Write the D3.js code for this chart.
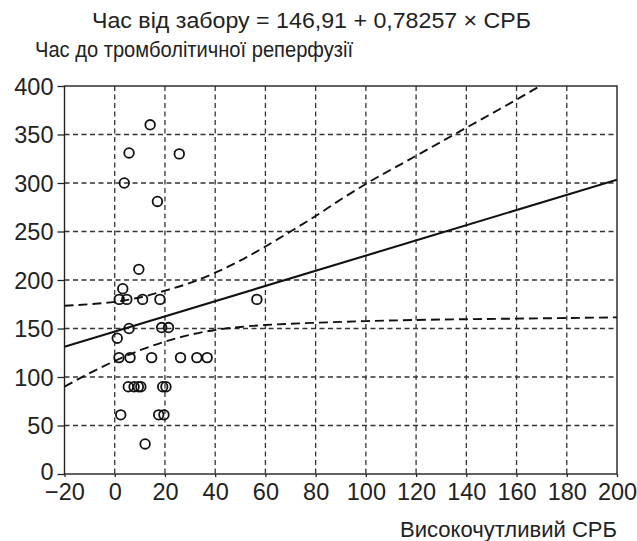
<!DOCTYPE html>
<html><head><meta charset="utf-8">
<script src="https://cdn.jsdelivr.net/npm/d3@7"></script>
<style>body{margin:0;background:#fff}svg{display:block}text{font-family:"Liberation Sans",Arial,sans-serif;fill:#222}</style>
</head><body><div id="chart"></div>
<script>
const titleText = "Час від забору = 146,91 + 0,78257 × СРБ";
const yAxisTitle = "Час до тромболітичної реперфузії";
const xAxisTitle = "Високочутливий СРБ";
const xTicks = [-20,0,20,40,60,80,100,120,140,160,180,200];
const yTicks = [0,50,100,150,200,250,300,350,400];
const intercept = 146.91, slope = 0.78257;
const crpValues = [14.1,5.7,25.7,3.8,17,9.6,3.2,1.8,4.8,11.1,18,56.6,5.7,18.7,21.4,1.0,1.7,6.1,14.7,26.2,32.7,36.8,5.4,7.7,9.4,10.4,19.1,20.4,2.4,17.5,19.6,12.1];
const timeValues = [360,331,330,300,281,211,191,180,180,180,180,180,150,151,151,140,120,120,120,120,120,120,90,90,90,90,90,90,61,61,61,31];
const bandX = [-20,-10,0,10,20,30,40,50,60,70,80,90,100,120,140,160,170,180,200];
const bandUpper = [173.5,175,177.5,182,189,197,207.5,220,234.5,250,266,283,299,328,357,386,401,416,446];
const bandLower = [90,104,116.5,127.5,136.5,143.5,148.5,151.6,153.6,154.9,155.9,156.8,157.6,158.8,159.6,160.2,160.5,160.8,161.5];

const W=637,H=541, m={l:64.5,r:20,t:86,b:67};
const svg=d3.select("#chart").append("svg").attr("width",W).attr("height",H);
const x=d3.scaleLinear().domain([-20,200]).range([m.l,W-m.r]);
const y=d3.scaleLinear().domain([0,400]).range([H-m.b,m.t]);

svg.append("defs").append("clipPath").attr("id","clip").append("rect")
  .attr("x",x(-20)).attr("y",y(400)).attr("width",x(200)-x(-20)).attr("height",y(0)-y(400));

// grid
const g=svg.append("g");
g.selectAll(".gx").data(xTicks.slice(1,-1)).join("line")
  .attr("x1",d=>x(d)).attr("x2",d=>x(d)).attr("y1",y(400)).attr("y2",y(0))
  .attr("stroke","#333").attr("stroke-width",1.3).attr("stroke-dasharray","5,3.5");
g.selectAll(".gy").data(yTicks.slice(1,-1)).join("line")
  .attr("y1",d=>y(d)).attr("y2",d=>y(d)).attr("x1",x(-20)).attr("x2",x(200))
  .attr("stroke","#333").attr("stroke-width",1.3).attr("stroke-dasharray","5,3.5");

// axes
const xa=svg.append("g").attr("transform",`translate(0,${y(0)})`)
  .call(d3.axisBottom(x).tickValues(xTicks).tickSize(3).tickPadding(5).tickFormat(d=>d<0?"−"+Math.abs(d):d));
const ya=svg.append("g").attr("transform",`translate(${x(-20)},0)`)
  .call(d3.axisLeft(y).tickValues(yTicks).tickSize(7).tickPadding(4));
[xa,ya].forEach(a=>{a.select(".domain").remove();a.selectAll("line").attr("stroke","#222").attr("stroke-width",1.3);
  a.selectAll("text").attr("font-size",23.5).attr("fill","#222").attr("font-family","Liberation Sans, Arial, sans-serif");});
xa.selectAll("text").attr("dy","0.76em");
ya.selectAll("text").attr("dy",d=>d===0?"0.22em":"0.36em");
svg.append("rect").attr("x",x(-20)).attr("y",y(400)).attr("width",x(200)-x(-20)).attr("height",y(0)-y(400))
  .attr("fill","none").attr("stroke","#222").attr("stroke-width",1.4);

// bands & regression
const pc=svg.append("g").attr("clip-path","url(#clip)");
const lineGen=d3.line().x(d=>x(d[0])).y(d=>y(d[1])).curve(d3.curveMonotoneX);
pc.append("path").attr("d",lineGen(bandX.map((v,i)=>[v,bandUpper[i]])))
  .attr("fill","none").attr("stroke","#111").attr("stroke-width",1.9).attr("stroke-dasharray","9,5");
pc.append("path").attr("d",lineGen(bandX.map((v,i)=>[v,bandLower[i]])))
  .attr("fill","none").attr("stroke","#111").attr("stroke-width",1.9).attr("stroke-dasharray","9,5");
pc.append("line").attr("x1",x(-20)).attr("y1",y(intercept+slope*-20)).attr("x2",x(200)).attr("y2",y(intercept+slope*200))
  .attr("stroke","#111").attr("stroke-width",2.1);

// points
svg.append("g").selectAll("circle").data(crpValues.map((v,i)=>[v,timeValues[i]])).join("circle")
  .attr("cx",d=>x(d[0])).attr("cy",d=>y(d[1])).attr("r",4.8)
  .attr("fill","none").attr("stroke","#111").attr("stroke-width",1.8);

// titles
svg.append("text").attr("x",92).attr("y",28.3).attr("font-size",21.5).attr("textLength",439).attr("lengthAdjust","spacingAndGlyphs").text(titleText);
svg.append("text").attr("x",35).attr("y",57.3).attr("font-size",21.5).attr("textLength",318).attr("lengthAdjust","spacingAndGlyphs").text(yAxisTitle);
svg.append("text").attr("x",617).attr("y",536.5).attr("text-anchor","end").attr("font-size",21.5).attr("textLength",217).attr("lengthAdjust","spacingAndGlyphs").text(xAxisTitle);
</script></body></html>
